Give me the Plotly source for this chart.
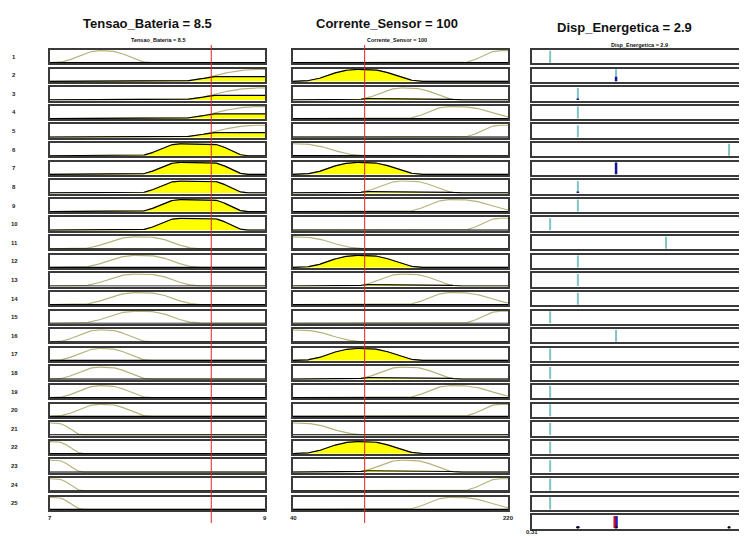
import numpy as np
import plotly.graph_objects as go

W, H = 747, 536
OFF = 8                      # default page body margin
FW, FH = W - OFF, H - OFF    # figure size that fits the window

# ---------------- data ----------------
tensao_title = "Tensao_Bateria"
tensao_value = 8.5
tensao_range = [7, 9]
tensao_tick_text = ["7", "9"]
tensao_mf_kind = ["zmf", "pimf", "pimf", "pimf", "smf"]
tensao_mf_params = [[7.05, 7.32], [7.03, 7.47, 7.52, 7.95], [7.25, 7.80, 7.88, 8.42],
                    [7.80, 8.22, 8.48, 8.85], [8.15, 8.95]]

corrente_title = "Corrente_Sensor"
corrente_value = 100
corrente_range = [40, 220]
corrente_tick_text = ["40", "220"]
corrente_mf_kind = ["zmf", "pimf", "pimf", "pimf", "smf"]
corrente_mf_params = [[44, 102], [44, 95, 101, 150], [90, 132, 138, 180],
                      [132, 172, 178, 235], [180, 214]]

saida_title = "Disp_Energetica"
saida_value = 2.9
saida_range = [0.31, 7]
saida_tick_text = ["0.31", "7"]
saida_singletons = [0.88, 1.75, 2.95, 4.52, 6.50]

rule_labels = [str(i) for i in range(1, 26)]
rule_tensao = [1, 4, 4, 4, 4, 3, 3, 3, 3, 3, 2, 2, 2, 2, 2, 1, 1, 1, 1, 1, 0, 0, 0, 0, 0]
rule_corrente = [4, 1, 2, 3, 4, 0, 1, 2, 3, 4, 0, 1, 2, 3, 4, 0, 1, 2, 3, 4, 0, 1, 2, 4, 3]
rule_saida = [0, 2, 1, 1, 1, 4, 2, 1, 1, 0, 3, 1, 1, 1, 0, 2, 0, 0, 0, 0, 0, 0, 0, 0, 0]


# ---------------- membership functions ----------------
def smf(x, a, b):
    x = np.asarray(x, float)
    m = (a + b) / 2.0
    return np.where(x <= a, 0.0,
           np.where(x <= m, 2 * ((x - a) / (b - a)) ** 2,
           np.where(x <= b, 1 - 2 * ((x - b) / (b - a)) ** 2, 1.0)))


def zmf(x, a, b):
    return 1.0 - smf(x, a, b)


def pimf(x, a, b, c, d):
    return smf(x, a, b) * zmf(x, c, d)


MF = {"smf": smf, "zmf": zmf, "pimf": pimf}


def mf_eval(kind, params, x):
    return MF[kind](x, *params)


# ---------------- geometry (window pixels) ----------------
col_px = [(50, 265), (293, 508), (532, 745)]
row_top0, row_step, row_h = 50.0, 18.61, 13.3


def px(xp):
    return (xp - OFF) / FW


def py(yp):
    return 1 - (yp - OFF) / FH


def ydom(r):
    top = row_top0 + r * row_step
    return [py(top + row_h), py(top)]


def xdom(c):
    return [px(col_px[c][0]), px(col_px[c][1])]


fig = go.Figure()
layout_axes = {}
axis_index = {}
counter = [0]


def new_axis(c, r, xr):
    counter[0] += 1
    k = counter[0]
    sx = "" if k == 1 else str(k)
    common = dict(showline=True, mirror=True, linecolor="#3a3a3a", linewidth=1.5,
                  showgrid=False, zeroline=False, showticklabels=False, ticks="",
                  fixedrange=True)
    layout_axes["xaxis" + sx] = dict(domain=xdom(c), range=xr, anchor="y" + sx, **common)
    layout_axes["yaxis" + sx] = dict(domain=ydom(r), range=[-0.05, 1.06], anchor="x" + sx, **common)
    axis_index[(c, r)] = k
    return "x" + sx, "y" + sx


KHAKI = "#b4b47c"
YELLOW = "#ffff00"
TEAL = "#80c4c4"
DARKBLUE = "#15158f"

inputs = [
    (tensao_range, tensao_value, tensao_mf_kind, tensao_mf_params, rule_tensao),
    (corrente_range, corrente_value, corrente_mf_kind, corrente_mf_params, rule_corrente),
]

firing = np.ones(len(rule_labels))

for c, (rng, val, kinds, params, rule_mf) in enumerate(inputs):
    xs = np.linspace(rng[0], rng[1], 301)
    for r, mi in enumerate(rule_mf):
        xa, ya = new_axis(c, r, rng)
        mu = mf_eval(kinds[mi], params[mi], xs)
        deg = float(mf_eval(kinds[mi], params[mi], val))
        firing[r] = min(firing[r], deg)
        clip = np.minimum(mu, deg)
        fig.add_trace(go.Scatter(x=xs, y=mu, mode="lines", xaxis=xa, yaxis=ya,
                                 line=dict(color=KHAKI, width=1.2), hoverinfo="skip"))
        fig.add_trace(go.Scatter(x=xs, y=clip, mode="lines", xaxis=xa, yaxis=ya,
                                 fill="tozeroy", fillcolor=YELLOW,
                                 line=dict(color="black", width=1.2), hoverinfo="skip"))

# output column
for r, oi in enumerate(rule_saida):
    xa, ya = new_axis(2, r, saida_range)
    v = saida_singletons[oi]
    fig.add_trace(go.Scatter(x=[v, v], y=[0, 1], mode="lines", xaxis=xa, yaxis=ya,
                             line=dict(color=TEAL, width=2), hoverinfo="skip"))
    if firing[r] > 0.005:
        fig.add_trace(go.Scatter(x=[v, v], y=[0, firing[r]], mode="lines", xaxis=xa, yaxis=ya,
                                 line=dict(color=DARKBLUE, width=2.5), hoverinfo="skip"))

# aggregate
xa, ya = new_axis(2, len(rule_labels), saida_range)
agg = np.zeros(len(saida_singletons))
for r, oi in enumerate(rule_saida):
    agg[oi] = max(agg[oi], firing[r])
active = [j for j in range(len(saida_singletons)) if agg[j] > 0]
for j in active:
    if agg[j] > 0.05:
        fig.add_trace(go.Scatter(x=[saida_singletons[j]] * 2, y=[0, agg[j]], mode="lines",
                                 xaxis=xa, yaxis=ya,
                                 line=dict(color="#2020c8", width=3.5), hoverinfo="skip"))
fig.add_trace(go.Scatter(x=[saida_singletons[j] for j in active], y=[0.03] * len(active),
                         mode="markers", xaxis=xa, yaxis=ya,
                         marker=dict(color="black", size=3), hoverinfo="skip"))
fig.add_trace(go.Scatter(x=[saida_value, saida_value], y=[0, 1], mode="lines", xaxis=xa, yaxis=ya,
                         line=dict(color="#e01010", width=2), hoverinfo="skip"))

fig.update_layout(**layout_axes)

# red input lines across the rule rows
shapes = []
for c, val in [(0, tensao_value), (1, corrente_value)]:
    k = axis_index[(c, 0)]
    xref = "x" if k == 1 else f"x{k}"
    shapes.append(dict(type="line", xref=xref, yref="paper", x0=val, x1=val,
                       y0=py(523), y1=py(45), line=dict(color="#e02424", width=1),
                       layer="above"))

FONT = "Liberation Sans, Arial, sans-serif"
ann = []
titles = [
    (f"{tensao_title} = {tensao_value:g}", 147, 23, 158, 40),
    (f"{corrente_title} = {corrente_value:g}", 387, 23, 397, 40),
    (f"{saida_title} = {saida_value:g}", 624, 27, 639, 45),
]
for txt, bx, by, sx, sy in titles:
    ann.append(dict(text=f"<b>{txt}</b>", x=px(bx), y=py(by), xref="paper", yref="paper",
                    showarrow=False, xanchor="center", yanchor="middle",
                    font=dict(family=FONT, size=13, color="#111")))
    ann.append(dict(text=f"<b>{txt}</b>", x=px(sx), y=py(sy), xref="paper", yref="paper",
                    showarrow=False, xanchor="center", yanchor="middle",
                    font=dict(family=FONT, size=5.5, color="#111")))

for r, lab in enumerate(rule_labels):
    yc = row_top0 + r * row_step + row_h / 2
    ann.append(dict(text=f"<b>{lab}</b>", x=px(14), y=py(yc), xref="paper", yref="paper",
                    showarrow=False, xanchor="center", yanchor="middle",
                    font=dict(family=FONT, size=6, color="#222")))

ends = [(0, tensao_range, tensao_tick_text, 518), (1, corrente_range, corrente_tick_text, 518),
        (2, saida_range, saida_tick_text, 532)]
for c, rng, tt, yp in ends:
    last_row = len(rule_labels) - 1 if c < 2 else len(rule_labels)
    k = axis_index[(c, last_row)]
    xref = "x" if k == 1 else f"x{k}"
    for v, t in zip(rng, tt):
        ann.append(dict(text=f"<b>{t}</b>", x=v, y=py(yp), xref=xref, yref="paper",
                        showarrow=False, xanchor="center", yanchor="middle",
                        font=dict(family=FONT, size=6, color="#222")))

fig.update_layout(width=FW, height=FH, margin=dict(l=0, r=0, t=0, b=0),
                  paper_bgcolor="white", plot_bgcolor="white", showlegend=False,
                  hovermode=False, shapes=shapes, annotations=ann)

fig.write_html("out.html")
